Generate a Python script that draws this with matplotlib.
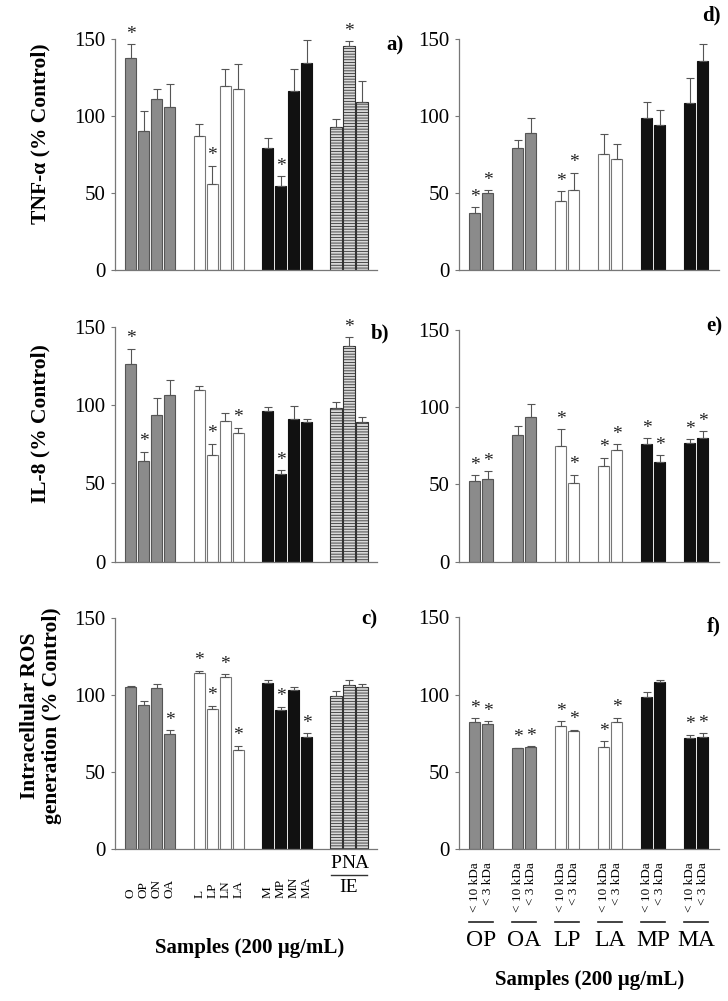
import numpy as np
import matplotlib
matplotlib.use('Agg')
from matplotlib import pyplot as plt
from matplotlib import transforms

plt.rcParams['font.family'] = ['Liberation Serif', 'DejaVu Serif']
plt.rcParams['hatch.linewidth'] = 0.6

# ---- data ----
left_labels = ['O', 'OP', 'ON', 'OA', 'L', 'LP', 'LN', 'LA', 'M', 'MP', 'MN', 'MA']
ie_labels = ['P', 'N', 'A']
right_groups = ['OP', 'OA', 'LP', 'LA', 'MP', 'MA']
right_fracs = ['< 10 kDa', '< 3 kDa']

tnf_left = [137.5, 90.5, 110.8, 105.6, 86.8, 55.6, 119.3, 117.7, 79.4, 54.8, 116.4, 134.2, 93.0, 145.5, 108.9]
tnf_left_err = [9, 13, 7, 15, 8, 12, 11, 16, 6, 6, 14, 15, 5, 3, 14]
tnf_left_sig = [1, 0, 0, 0, 0, 1, 0, 0, 0, 1, 0, 0, 0, 1, 0]

il8_left = [126.0, 64.1, 93.8, 106.2, 109.6, 68.3, 89.6, 81.9, 96.0, 55.8, 91.3, 89.4, 97.9, 137.8, 89.0]
il8_left_err = [10, 6, 10.5, 10, 2.5, 7, 5, 3.5, 2.5, 2.5, 8, 1.5, 4, 5.5, 3.5]
il8_left_sig = [1, 1, 0, 0, 0, 1, 0, 1, 0, 1, 0, 0, 0, 1, 0]

ros_left = [105.2, 93.3, 104.3, 74.5, 114.0, 90.9, 111.8, 64.5, 107.9, 90.0, 103.2, 72.9, 99.3, 106.2, 105.3]
ros_left_err = [0.5, 3, 2.5, 2.6, 1.5, 2, 1.5, 2.4, 1.5, 2.2, 2.1, 2.2, 3, 3.4, 1.6]
ros_left_sig = [0, 0, 0, 1, 1, 1, 1, 1, 0, 1, 0, 1, 0, 0, 0]

tnf_right = [36.8, 49.8, 79.4, 88.7, 44.6, 52.2, 75.1, 71.9, 98.9, 93.9, 108.4, 135.9]
tnf_right_err = [4, 2, 5, 10, 6.5, 11, 13, 10, 10, 10, 16, 11]
tnf_right_sig = [1, 1, 0, 0, 1, 1, 0, 0, 0, 0, 0, 0]

il8_right = [52.4, 53.4, 81.8, 93.9, 75.1, 50.8, 62.2, 72.1, 76.4, 64.6, 76.7, 80.1]
il8_right_err = [3.5, 5, 6, 8, 10.6, 5.4, 5, 4, 3.5, 4.3, 2.6, 4.3]
il8_right_sig = [1, 1, 0, 0, 1, 1, 1, 1, 1, 1, 1, 1]

ros_right = [82.5, 80.8, 65.3, 65.9, 79.5, 76.7, 66.3, 82.1, 98.2, 108.1, 71.9, 72.6]
ros_right_err = [2.2, 2.1, 0.5, 0.7, 3.2, 0.6, 3.5, 2.8, 3.3, 1.5, 2.0, 2.4]
ros_right_sig = [1, 1, 1, 1, 1, 1, 1, 1, 0, 0, 1, 1]

GRAY = '#8b8b8b'
W, H = 728, 1001

styles = {
    'gray': dict(color=GRAY, edgecolor='#555555'),
    'white': dict(color='white', edgecolor='#777777'),
    'black': dict(color='#111111', edgecolor='#111111'),
    'hatch': dict(color='#d8d8d8', edgecolor='#333333', hatch='------'),
}
left_kinds = ['gray'] * 4 + ['white'] * 4 + ['black'] * 4 + ['hatch'] * 3
right_kinds = ['gray'] * 4 + ['white'] * 4 + ['black'] * 4

left_x = np.array([g * 5.26 + i for g in range(4) for i in range(4)])[:15]
right_x = np.array([g * 3.3 + i for g in range(6) for i in range(2)])


def px_axes(fig, x0, y0, x1, y1):
    return fig.add_axes([x0 / W, 1 - y1 / H, (x1 - x0) / W, (y1 - y0) / H])


def bar_panel(ax, x, vals, errs, sig, kinds, xlim):
    for xi, v, e, s, k in zip(x, vals, errs, sig, kinds):
        ax.bar(xi, v, width=0.86, linewidth=0.8, zorder=2, **styles[k])
        ax.errorbar(xi, v, yerr=[[0], [e]], fmt='none', ecolor='#555555',
                    elinewidth=0.8, capsize=3, capthick=0.8, zorder=3)
        if s:
            ax.text(xi, v + e + 1.0, '*', ha='center', va='bottom', fontsize=14,
                    color='#222222', clip_on=False)
    ax.set_xlim(*xlim)
    ax.set_ylim(0, 150)
    ax.set_yticks([0, 50, 100, 150])
    ax.tick_params(axis='y', labelsize=15, length=3, width=0.8, color='#777777', pad=4)
    ax.set_xticks([])
    for sp in ['top', 'right']:
        ax.spines[sp].set_visible(False)
    for sp in ['left', 'bottom']:
        ax.spines[sp].set_color('#777777')
        ax.spines[sp].set_linewidth(0.9)


fig = plt.figure(figsize=(W / 100, H / 100), dpi=100)

left_rows = [(39, 270), (326.7, 561.7), (617.7, 849.3)]
right_rows = [(39, 270), (330, 561.7), (617.3, 849.3)]
left_data = [(tnf_left, tnf_left_err, tnf_left_sig),
             (il8_left, il8_left_err, il8_left_sig),
             (ros_left, ros_left_err, ros_left_sig)]
right_data = [(tnf_right, tnf_right_err, tnf_right_sig),
              (il8_right, il8_right_err, il8_right_sig),
              (ros_right, ros_right_err, ros_right_sig)]

axes_l = []
axes_r = []
for (y0, y1), d in zip(left_rows, left_data):
    ax = px_axes(fig, 115, y0, 377, y1)
    bar_panel(ax, left_x, d[0], d[1], d[2], left_kinds, (-1.22, 18.94))
    axes_l.append(ax)
for (y0, y1), d in zip(right_rows, right_data):
    ax = px_axes(fig, 459, y0, 719, y1)
    bar_panel(ax, right_x, d[0], d[1], d[2], right_kinds, (-1.19, 18.75))
    axes_r.append(ax)

# y labels
fig.text(40 / W, 1 - 134 / H, 'TNF-α (% Control)', rotation=90, ha='center', va='center',
         fontsize=15.5, fontweight='bold')
fig.text(40 / W, 1 - 424 / H, 'IL-8 (% Control)', rotation=90, ha='center', va='center',
         fontsize=15.5, fontweight='bold')
fig.text(41 / W, 1 - 716 / H, 'Intracellular ROS\ngeneration (% Control)', rotation=90,
         ha='center', va='center', fontsize=15.5, fontweight='bold', linespacing=1.15)

# panel letters
for lab, (px, py) in zip(['a)', 'b)', 'c)', 'd)', 'e)', 'f)'],
                         [(395, 45), (380, 333), (369, 619), (711, 15), (714, 326), (714, 626)]):
    fig.text(px / W, 1 - py / H, lab, ha='center', va='center', fontsize=15, fontweight='bold')

# left x labels
ax = axes_l[2]
trans = transforms.blended_transform_factory(ax.transData, fig.transFigure)
for xi, lab in zip(left_x[:12], left_labels):
    ax.text(xi, 1 - 898 / H, lab, transform=trans, rotation=90, ha='center', va='bottom',
            fontsize=9.5)
for xi, lab in zip(left_x[12:], ie_labels):
    ax.text(xi, 1 - 864 / H, lab, transform=trans, ha='center', va='center', fontsize=14)
ax.plot([left_x[12] - 0.4, left_x[14] + 0.4], [1 - 875 / H] * 2, transform=trans,
        color='#333333', lw=1.0, clip_on=False)
ax.text(left_x[13], 1 - 888 / H, 'IE', transform=trans, ha='center', va='center', fontsize=14)
fig.text(250 / W, 1 - 948 / H, 'Samples (200 µg/mL)', ha='center', va='center',
         fontsize=15, fontweight='bold')

# right x labels
ax = axes_r[2]
trans = transforms.blended_transform_factory(ax.transData, fig.transFigure)
for g, name in enumerate(right_groups):
    for i, frac in enumerate(right_fracs):
        xi = right_x[2 * g + i]
        ax.text(xi, 1 - 862 / H, frac, transform=trans, rotation=90, ha='center', va='top',
                fontsize=9.5)
    ax.plot([right_x[2 * g] - 0.4, right_x[2 * g + 1] + 0.4], [1 - 922 / H] * 2,
            transform=trans, color='#222222', lw=1.2, clip_on=False)
    ax.text((right_x[2 * g] + right_x[2 * g + 1]) / 2, 1 - 941 / H, name, transform=trans,
            ha='center', va='center', fontsize=17)
fig.text(590 / W, 1 - 980 / H, 'Samples (200 µg/mL)', ha='center', va='center',
         fontsize=15, fontweight='bold')

fig.savefig('out.png', dpi=100)
